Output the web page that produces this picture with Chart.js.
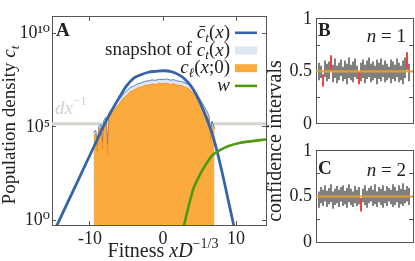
<!DOCTYPE html>
<html>
<head>
<meta charset="utf-8">
<script src="https://cdn.jsdelivr.net/npm/chart.js@4.4.1/dist/chart.umd.min.js"></script>
<style>
  html, body { margin: 0; padding: 0; background: #fff; }
  #wrap { position: relative; width: 415px; height: 261px; overflow: hidden; }
  canvas { position: absolute; }
  #chartA { left: 0; top: 0; }
  #chartB { left: 262px; top: 0; }
  #chartC { left: 262px; top: 132px; }
</style>
</head>
<body>
<div id="wrap">
  <canvas id="chartA" width="268" height="261"></canvas>
  <canvas id="chartB" width="153" height="261"></canvas>
  <canvas id="chartC" width="153" height="129"></canvas>
</div>
<script>
const SERIF = "'Liberation Serif', 'DejaVu Serif', serif";
const FRAME = '#555';
Chart.defaults.font.family = SERIF;
Chart.defaults.font.size = 18;
Chart.defaults.color = '#222';

// ---- panel A : densities, as log10 values ----
const xTicks = [-10, 0, 10];
const xTickLabels = ['-10', '0', '10'];
const yTicks = [1, 1e5, 1e10];
const yTickLabels = ['10⁰', '10⁵', '10¹⁰'];

const meanX = [-14.7, -14, -13, -12, -11, -10, -9, -8, -7, -6, -5, -4, -3, -2, -1, 0, 1, 2, 3, 4, 5, 6, 7, 8, 9, 9.7];
const meanLog10 = [-0.41, 0.17, 1.00, 1.83, 2.67, 3.50, 4.33, 5.17, 5.90, 6.57, 7.20, 7.62, 7.80, 7.93, 7.98, 8.01, 7.98, 7.83, 7.56, 7.10, 6.37, 5.43, 4.28, 2.72, 0.95, -0.30];

const snapX = [-9.55, -9.2, -9.0, -8.8, -8.5, -8.3, -8.1, -7.8, -7.6, -7.4, -7.0, -6.5, -6.0, -5.5, -5.0, -4.5, -4.0, -3.5, -3.0, -2.5, -2.0, -1.5, -1.0, -0.5, 0.0, 0.5, 1.0, 1.5, 2.0, 2.5, 3.0, 3.5, 4.0, 4.5, 5.0, 5.5, 6.0, 6.3, 6.5, 6.7, 7.1];
const snapLog10 = [4.70, 4.82, 4.00, 5.02, 5.14, 4.20, 5.36, 5.52, 4.10, 5.74, 5.96, 6.24, 6.47, 6.74, 6.92, 7.11, 7.20, 7.31, 7.36, 7.44, 7.47, 7.52, 7.50, 7.56, 7.53, 7.57, 7.51, 7.53, 7.46, 7.44, 7.37, 7.28, 7.10, 6.87, 6.53, 6.18, 5.86, 5.60, 4.72, 5.32, 4.90];

const linX = [-9.45, -9.2, -9.0, -8.8, -8.5, -8.3, -8.1, -7.8, -7.6, -7.4, -7.0, -6.5, -6.0, -5.5, -5.0, -4.5, -4.0, -3.5, -3.0, -2.5, -2.0, -1.5, -1.0, -0.5, 0.0, 0.5, 1.0, 1.5, 2.0, 2.5, 3.0, 3.5, 4.0, 4.5, 5.0, 5.5, 6.0, 6.3, 6.5, 6.7, 7.0];
const linLog10 = [4.54, 4.65, 3.66, 4.86, 4.96, 3.81, 5.17, 5.32, 3.50, 5.53, 5.74, 6.02, 6.24, 6.52, 6.69, 6.88, 6.97, 7.09, 7.13, 7.22, 7.24, 7.30, 7.27, 7.34, 7.31, 7.35, 7.28, 7.31, 7.23, 7.22, 7.13, 7.06, 6.87, 6.65, 6.29, 5.97, 5.62, 5.40, 4.33, 5.12, 4.70];

const wX = [2.85, 3.3, 3.7, 4.2, 4.8, 5.5, 6.2, 6.8, 7.8, 8.9, 10.3, 11.9, 14.1];
const wLog10 = [-0.30, 0.43, 1.05, 1.73, 2.25, 2.77, 3.19, 3.50, 3.76, 3.97, 4.13, 4.23, 4.33];

const dxLog10 = 5.17;

// ---- panels B, C : confidence intervals ----
const trueRate = 0.5;
const ciTicks = [0, 0.25, 0.5, 0.75, 1];
const ciTickLabels = ['0', '', '0.5', '', '1'];
const lowsB = [0.42, 0.44, 0.36, 0.45, 0.41, 0.43, 0.51, 0.40, 0.44, 0.39, 0.42, 0.46, 0.41, 0.43, 0.38, 0.44, 0.42, 0.40, 0.45, 0.43, 0.38, 0.41, 0.44, 0.39, 0.43, 0.45, 0.40, 0.42, 0.44, 0.38, 0.43, 0.41, 0.45, 0.40, 0.42, 0.44, 0.39, 0.43, 0.41, 0.45, 0.40, 0.42, 0.38, 0.44, 0.52, 0.41];
const highsB = [0.58, 0.55, 0.47, 0.60, 0.57, 0.59, 0.65, 0.56, 0.62, 0.55, 0.58, 0.61, 0.54, 0.60, 0.57, 0.63, 0.56, 0.59, 0.62, 0.55, 0.49, 0.58, 0.61, 0.56, 0.60, 0.63, 0.57, 0.59, 0.55, 0.61, 0.58, 0.62, 0.56, 0.60, 0.57, 0.54, 0.61, 0.59, 0.56, 0.62, 0.58, 0.55, 0.60, 0.63, 0.68, 0.57];
const lowsC = [0.38, 0.43, 0.40, 0.45, 0.39, 0.42, 0.44, 0.37, 0.41, 0.43, 0.39, 0.45, 0.40, 0.42, 0.38, 0.44, 0.41, 0.39, 0.43, 0.40, 0.42, 0.34, 0.44, 0.41, 0.38, 0.43, 0.45, 0.40, 0.42, 0.39, 0.44, 0.41, 0.38, 0.43, 0.40, 0.45, 0.42, 0.39, 0.41, 0.44, 0.38, 0.42, 0.40, 0.43, 0.45, 0.41];
const highsC = [0.55, 0.60, 0.57, 0.62, 0.56, 0.59, 0.63, 0.55, 0.58, 0.61, 0.57, 0.60, 0.62, 0.56, 0.59, 0.63, 0.58, 0.55, 0.61, 0.57, 0.60, 0.48, 0.58, 0.62, 0.56, 0.59, 0.61, 0.57, 0.63, 0.55, 0.60, 0.58, 0.62, 0.56, 0.61, 0.59, 0.57, 0.63, 0.60, 0.56, 0.62, 0.58, 0.64, 0.57, 0.61, 0.59];

const X_MIN = -15.2, X_MAX = 14.1;
const Y_MIN = 10 ** -0.25, Y_MAX = 10 ** 10.9;
const CI_MIN = -0.5, CI_MAX = 48;

const pts = (xs, logs) => xs.map((x, i) => ({ x, y: 10 ** logs[i] }));

// text with italic / sub / sup pieces
function drawRich(ctx, parts, x, y, align, size, color) {
  const fontOf = p => (p.i ? 'italic ' : '') + (p.b ? 'bold ' : '') +
    ((p.sub || p.sup) ? Math.round(size * 0.7) : size) + 'px ' + SERIF;
  ctx.save();
  ctx.fillStyle = color || '#222';
  ctx.textBaseline = 'middle';
  ctx.textAlign = 'left';
  let w = 0;
  for (const p of parts) { ctx.font = fontOf(p); w += ctx.measureText(p.t).width; }
  let cx = align === 'right' ? x - w : align === 'center' ? x - w / 2 : x;
  for (const p of parts) {
    ctx.font = fontOf(p);
    const dy = p.sub ? size * 0.28 : p.sup ? -size * 0.38 : 0;
    ctx.fillText(p.t, cx, y + dy);
    cx += ctx.measureText(p.t).width;
  }
  ctx.restore();
}

function fixedTicks(values) {
  return s => { s.ticks = values.map(v => ({ value: v })); };
}

const legendRows = [
  { ds: 3, kind: 'line', parts: [{ t: 'c\u0304', i: true }, { t: 't', i: true, sub: true }, { t: '(' }, { t: 'x', i: true }, { t: ')' }] },
  { ds: 1, kind: 'box', parts: [{ t: 'snapshot of ' }, { t: 'c', i: true }, { t: 't', i: true, sub: true }, { t: '(' }, { t: 'x', i: true }, { t: ')' }] },
  { ds: 2, kind: 'box', parts: [{ t: 'c', i: true }, { t: 'ℓ', i: true, sub: true }, { t: '(' }, { t: 'x', i: true }, { t: ';0)' }] },
  { ds: 4, kind: 'line', parts: [{ t: 'w', i: true }] }
];

const panelAText = {
  id: 'panelAText',
  afterDraw(chart) {
    const { ctx, chartArea: a } = chart;
    drawRich(ctx, [{ t: 'A', b: true }], a.left + 4, a.top + 14, 'left', 19);
    drawRich(ctx, [{ t: 'dx', i: true }, { t: '−1', sup: true }], a.left + 3, 109, 'left', 19, '#d2d2cc');
    legendRows.forEach((row, k) => {
      const y = a.top + 16 + k * 17.7;
      const ds = chart.data.datasets[row.ds];
      drawRich(ctx, row.parts, a.right - 36, y, 'right', 19);
      ctx.save();
      if (row.kind === 'line') {
        ctx.strokeStyle = ds.borderColor;
        ctx.lineWidth = 2.6;
        ctx.beginPath(); ctx.moveTo(a.right - 31, y); ctx.lineTo(a.right - 9, y); ctx.stroke();
      } else {
        ctx.fillStyle = ds.backgroundColor;
        ctx.fillRect(a.right - 31, y - 4, 22, 8);
      }
      ctx.restore();
    });
    ctx.save();
    ctx.translate(10, 125);
    ctx.rotate(-Math.PI / 2);
    drawRich(ctx, [{ t: 'Population density ' }, { t: 'c', i: true }, { t: 't', i: true, sub: true }], 0, 0, 'center', 19);
    ctx.restore();
    drawRich(ctx, [{ t: 'Fitness ' }, { t: 'xD', i: true }, { t: '−1/3', sup: true }], 163, 252, 'center', 20);
  }
};

const line = (data, extra) => Object.assign({ data, showLine: true, pointRadius: 0, fill: false }, extra);

new Chart(document.getElementById('chartA'), {
  type: 'scatter',
  data: {
    datasets: [
      line([{ x: X_MIN, y: 10 ** dxLog10 }, { x: X_MAX, y: 10 ** dxLog10 }], { borderColor: '#d4d4ce', borderWidth: 3, order: 6 }),
      line(pts(snapX, snapLog10), { fill: 'start', backgroundColor: '#dfe7f4', borderColor: '#3565a8', borderWidth: 0.8, order: 5 }),
      line(pts(linX, linLog10), { fill: 'start', backgroundColor: '#fbab3e', borderColor: '#f5870f', borderWidth: 0.8, order: 4 }),
      line(pts(meanX, meanLog10), { borderColor: '#3565a8', borderWidth: 2.8, tension: 0.4, order: 3 }),
      line(pts(wX, wLog10), { borderColor: '#4e9a0f', borderWidth: 2.6, tension: 0.4, order: 2 })
    ]
  },
  options: {
    responsive: false,
    animation: false,
    events: [],
    layout: { padding: { top: 11, right: 2, left: 0, bottom: 0 } },
    plugins: { legend: { display: false }, tooltip: { enabled: false } },
    scales: {
      x: {
        type: 'linear', min: X_MIN, max: X_MAX,
        afterBuildTicks: fixedTicks(xTicks),
        ticks: { callback: (v, i) => xTickLabels[i], padding: 7, autoSkip: false, maxRotation: 0 },
        grid: { drawOnChartArea: false, tickLength: -4, color: FRAME },
        border: { color: FRAME },
        afterFit: s => { s.height = 36; }
      },
      xTop: {
        type: 'linear', position: 'top', min: X_MIN, max: X_MAX,
        afterBuildTicks: fixedTicks(xTicks),
        ticks: { display: false },
        grid: { drawOnChartArea: false, tickLength: -4, color: FRAME },
        border: { color: FRAME },
        afterFit: s => { s.height = 0; }
      },
      y: {
        type: 'logarithmic', min: Y_MIN, max: Y_MAX,
        afterBuildTicks: fixedTicks(yTicks),
        ticks: { callback: (v, i) => yTickLabels[i], padding: 6, autoSkip: false },
        grid: { drawOnChartArea: false, tickLength: -4, color: FRAME },
        border: { color: FRAME },
        afterFit: s => { s.width = 52; }
      },
      yRight: {
        type: 'logarithmic', position: 'right', min: Y_MIN, max: Y_MAX,
        afterBuildTicks: fixedTicks(yTicks),
        ticks: { display: false },
        grid: { drawOnChartArea: false, tickLength: -4, color: FRAME },
        border: { color: FRAME },
        afterFit: s => { s.width = 0; }
      }
    }
  },
  plugins: [panelAText]
});

function ciChart(id, lows, highs, letter, nText, pad, title) {
  const textPlugin = {
    id: 'ciText' + letter,
    afterDraw(chart) {
      const { ctx, chartArea: a } = chart;
      drawRich(ctx, [{ t: letter, b: true }], a.left + 2, a.top + pad.letterDy, 'left', 19);
      drawRich(ctx, [{ t: 'n', i: true }, { t: ' = ' + nText }], a.right - 7, a.top + pad.nDy, 'right', 19);
      if (title) {
        ctx.save();
        ctx.translate(14, 141);
        ctx.rotate(-Math.PI / 2);
        drawRich(ctx, [{ t: 'confidence intervals' }], 0, 0, 'center', 20);
        ctx.restore();
      }
    }
  };
  new Chart(document.getElementById(id), {
    type: 'bar',
    data: {
      datasets: [
        { type: 'line', data: [{ x: CI_MIN, y: trueRate }, { x: CI_MAX, y: trueRate }], borderColor: 'rgba(238,160,45,0.9)', borderWidth: 2.2, pointRadius: 0, order: 1 },
        {
          type: 'bar',
          data: lows.map((lo, i) => ({ x: i + 1, y: [lo, highs[i]] })),
          backgroundColor: lows.map((lo, i) => (lo > trueRate || highs[i] < trueRate) ? '#f03c3c' : '#7d7d7d'),
          barThickness: 1.3, grouped: false, order: 2
        }
      ]
    },
    options: {
      responsive: false,
      animation: false,
      events: [],
      layout: { padding: { top: pad.top, right: 2, left: 0, bottom: pad.bottom } },
      plugins: { legend: { display: false }, tooltip: { enabled: false } },
      scales: {
        x: {
          type: 'linear', min: CI_MIN, max: CI_MAX, offset: false,
          ticks: { display: false },
          grid: { drawOnChartArea: false, drawTicks: false },
          border: { color: FRAME },
          afterFit: s => { s.height = 0; }
        },
        xTop: {
          type: 'linear', position: 'top', min: CI_MIN, max: CI_MAX,
          ticks: { display: false },
          grid: { drawOnChartArea: false, drawTicks: false },
          border: { color: FRAME },
          afterFit: s => { s.height = 0; }
        },
        y: {
          min: 0, max: 1,
          afterBuildTicks: fixedTicks(ciTicks),
          ticks: { callback: (v, i) => ciTickLabels[i], padding: 8, autoSkip: false },
          grid: { drawOnChartArea: false, tickLength: -4, color: FRAME },
          border: { color: FRAME },
          afterFit: s => { s.width = 54; }
        },
        yRight: {
          position: 'right', min: 0, max: 1,
          afterBuildTicks: fixedTicks(ciTicks),
          ticks: { display: false },
          grid: { drawOnChartArea: false, tickLength: -4, color: FRAME },
          border: { color: FRAME },
          afterFit: s => { s.width = 0; }
        }
      }
    },
    plugins: [textPlugin]
  });
}

ciChart('chartB', lowsB, highsB, 'B', '1', { top: 13, bottom: 137, letterDy: 12, nDy: 18 }, true);
ciChart('chartC', lowsC, highsC, 'C', '2', { top: 10, bottom: 8, letterDy: 18, nDy: 20 }, false);
</script>
</body>
</html>
